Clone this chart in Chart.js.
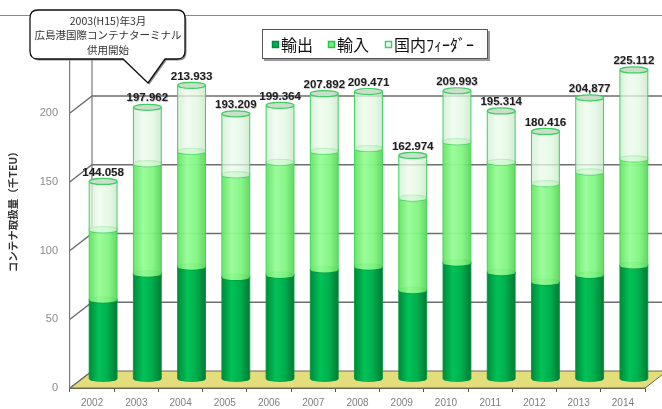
<!DOCTYPE html>
<html>
<head>
<meta charset="utf-8">
<script src="https://cdn.jsdelivr.net/npm/chart.js@4"></script>
<style>
  html, body { margin: 0; padding: 0; background: #fff; }
  #wrap { width: 662px; height: 409px; }
</style>
</head>
<body>
<div id="wrap"><canvas id="myChart" width="662" height="409"></canvas></div>
<script>
// years and cargo volumes (thousand TEU)
const years = ['2002', '2003', '2004', '2005', '2006', '2007', '2008', '2009', '2010', '2011', '2012', '2013', '2014'];
const exportVals = [58, 77, 82, 74.5, 76, 80, 82, 65, 85, 78, 71, 76, 83];
const importVals = [51, 80, 84, 74.5, 82, 86, 86, 67, 88, 80, 71.5, 75, 77.5];
const feederVals = [35.058, 40.962, 47.933, 44.209, 41.364, 41.892, 41.471, 30.974, 36.993, 37.314, 37.916, 53.877, 64.612];
const totalLabels = ['144.058', '197.962', '213.933', '193.209', '199.364', '207.892', '209.471', '162.974', '209.993', '195.314', '180.416', '204,877', '225.112'];
const yTicks = [0, 50, 100, 150, 200];
const seriesNames = ['輸出', '輸入', '国内ﾌｨｰﾀﾞｰ'];

const JP = '"Noto Sans CJK JP", sans-serif';
const depthX = 22, depthY = 17;   // 3d depth of the plot box
const capH = 3;                   // vertical radius of cylinder caps

const cylStyles = [
  { stops: [[0, '#008a3a'], [0.35, '#00c257'], [0.65, '#00b04e'], [1, '#007c34']], cap: '#2fc86a', rim: 'rgba(0,150,60,0.9)' },
  { stops: [[0, 'rgba(100,228,100,0.95)'], [0.35, 'rgba(150,252,150,0.95)'], [0.7, 'rgba(128,245,128,0.95)'], [1, 'rgba(92,214,92,0.95)']], cap: 'rgba(170,250,170,0.95)', rim: '#44d35e' },
  { stops: [[0, 'rgba(208,238,208,0.8)'], [0.35, 'rgba(236,251,236,0.75)'], [0.7, 'rgba(224,246,224,0.75)'], [1, 'rgba(198,232,198,0.8)']], cap: 'rgba(200,220,200,0.95)', rim: '#3fcf63' }
];

function drawCylinder(ctx, x, top, bottom, r, st) {
  const g = ctx.createLinearGradient(x - r, 0, x + r, 0);
  st.stops.forEach(s => g.addColorStop(s[0], s[1]));
  ctx.beginPath();
  ctx.moveTo(x - r, top);
  ctx.lineTo(x - r, bottom);
  ctx.ellipse(x, bottom, r, capH, 0, Math.PI, 0, true);
  ctx.lineTo(x + r, top);
  ctx.ellipse(x, top, r, capH, 0, 0, -Math.PI, true);
  ctx.closePath();
  ctx.fillStyle = g;
  ctx.fill();
  ctx.strokeStyle = st.rim;
  ctx.lineWidth = 1;
  ctx.beginPath();
  ctx.moveTo(x - r, top); ctx.lineTo(x - r, bottom);
  ctx.moveTo(x + r, top); ctx.lineTo(x + r, bottom);
  ctx.stroke();
  // top cap
  ctx.beginPath();
  ctx.ellipse(x, top, r, capH, 0, 0, Math.PI * 2);
  ctx.fillStyle = st.cap;
  ctx.fill();
  ctx.lineWidth = 1.2;
  ctx.stroke();
}

// back wall, grid lines and floor
const boxPlugin = {
  id: 'box3d',
  beforeDatasetsDraw(chart) {
    const { ctx, chartArea: a, scales: { y } } = chart;
    ctx.save();
    // floor
    ctx.beginPath();
    ctx.moveTo(a.left, a.bottom);
    ctx.lineTo(a.right, a.bottom);
    ctx.lineTo(a.right + depthX, a.bottom - depthY);
    ctx.lineTo(a.left + depthX, a.bottom - depthY);
    ctx.closePath();
    ctx.fillStyle = '#e3dd7c';
    ctx.fill();
    ctx.strokeStyle = '#6b6b50';
    ctx.lineWidth = 1;
    ctx.stroke();
    // back wall edge
    ctx.strokeStyle = '#7a7a7a';
    ctx.lineWidth = 1.2;
    ctx.beginPath();
    ctx.moveTo(a.left + depthX, a.bottom - depthY);
    ctx.lineTo(a.left + depthX, 14);
    ctx.stroke();
    // grid lines on the back wall
    ctx.strokeStyle = '#6e6e6e';
    ctx.lineWidth = 1.5;
    yTicks.forEach(v => {
      const py = y.getPixelForValue(v);
      ctx.beginPath();
      ctx.moveTo(a.left, py);
      ctx.lineTo(a.left + depthX, py - depthY);
      if (v > 0) ctx.lineTo(chart.width, py - depthY);
      ctx.stroke();
    });
    ctx.restore();
  },
  afterDatasetsDraw(chart) {
    const { ctx } = chart;
    const metas = [0, 1, 2].map(i => chart.getDatasetMeta(i));
    ctx.save();
    ctx.translate(depthX / 2, -depthY / 2);
    years.forEach((yr, i) => {
      let topY = 0, cx = 0;
      metas.forEach((m, d) => {
        const el = m.data[i];
        const p = el.getProps(['x', 'y', 'base', 'width'], true);
        drawCylinder(ctx, p.x, p.y, p.base, p.width / 2, cylStyles[d]);
        topY = p.y; cx = p.x;
      });
      ctx.font = 'bold 11.5px "Liberation Sans", Arial, sans-serif';
      ctx.textAlign = 'center';
      ctx.textBaseline = 'middle';
      ctx.fillStyle = 'rgba(0,0,0,0.22)';
      ctx.fillText(totalLabels[i], cx + 0.7, topY - capH - 6 + 0.7);
      ctx.fillStyle = '#1e1e1e';
      ctx.fillText(totalLabels[i], cx, topY - capH - 6);
    });
    ctx.restore();
  },
  afterDraw(chart) {
    const { ctx } = chart;
    ctx.save();
    // top frame line
    ctx.strokeStyle = '#8a8a8a';
    ctx.lineWidth = 1;
    ctx.beginPath();
    ctx.moveTo(0, 15.5); ctx.lineTo(chart.width, 15.5);
    ctx.stroke();

    // legend box
    ctx.fillStyle = '#9a9a9a';
    ctx.fillRect(264, 31, 226, 30);
    ctx.fillStyle = '#fff';
    ctx.fillRect(262, 29, 226, 30);
    ctx.strokeStyle = '#555';
    ctx.strokeRect(262.5, 29.5, 225, 29);
    const items = [
      { x: 272, fill: '#00b050', line: '#008a3a' },
      { x: 328, fill: '#77f077', line: '#2fc24f' },
      { x: 385, fill: '#ffffff', line: '#3fcf63' }
    ];
    ctx.font = '16px ' + JP;
    ctx.textBaseline = 'middle';
    ctx.textAlign = 'left';
    items.forEach((it, i) => {
      ctx.fillStyle = it.fill;
      ctx.fillRect(it.x, 41, 7, 7);
      ctx.strokeStyle = it.line;
      ctx.lineWidth = 1.5;
      ctx.strokeRect(it.x + 0.5, 41.5, 6, 6);
      ctx.fillStyle = '#111';
      ctx.fillText(seriesNames[i], it.x + 9, 45);
    });

    // callout
    const drawBubble = (dx, dy) => {
      ctx.beginPath();
      ctx.moveTo(38 + dx, 10 + dy);
      ctx.lineTo(177 + dx, 10 + dy);
      ctx.quadraticCurveTo(185 + dx, 10 + dy, 185 + dx, 18 + dy);
      ctx.lineTo(185 + dx, 51 + dy);
      ctx.quadraticCurveTo(185 + dx, 59 + dy, 177 + dx, 59 + dy);
      ctx.lineTo(165 + dx, 59 + dy);
      ctx.lineTo(148 + dx, 83 + dy);
      ctx.lineTo(123 + dx, 59 + dy);
      ctx.lineTo(38 + dx, 59 + dy);
      ctx.quadraticCurveTo(30 + dx, 59 + dy, 30 + dx, 51 + dy);
      ctx.lineTo(30 + dx, 18 + dy);
      ctx.quadraticCurveTo(30 + dx, 10 + dy, 38 + dx, 10 + dy);
      ctx.closePath();
    };
    drawBubble(1.5, 1.5);
    ctx.fillStyle = '#8a8a8a';
    ctx.fill();
    drawBubble(0, 0);
    ctx.fillStyle = '#fff';
    ctx.fill();
    ctx.strokeStyle = '#111';
    ctx.lineWidth = 1.3;
    ctx.stroke();
    ctx.fillStyle = '#333';
    ctx.textAlign = 'center';
    ctx.font = '10.5px ' + JP;
    ctx.fillText('2003(H15)年3月', 108, 21);
    ctx.fillText('広島港国際コンテナターミナル', 108, 35.5);
    ctx.fillText('供用開始', 108, 50);
    ctx.restore();
  }
};

const data = {
  labels: years,
  datasets: [
    { label: seriesNames[0], data: exportVals },
    { label: seriesNames[1], data: importVals },
    { label: seriesNames[2], data: feederVals }
  ].map(ds => Object.assign(ds, {
    backgroundColor: 'rgba(0,0,0,0)',
    borderWidth: 0,
    barPercentage: 0.63,
    categoryPercentage: 1
  }))
};

const config = {
  type: 'bar',
  data: data,
  options: {
    responsive: false,
    animation: false,
    layout: { padding: { left: 0, right: 17, top: 30.5, bottom: 0 } },
    plugins: {
      legend: { display: false },
      tooltip: { enabled: false }
    },
    scales: {
      x: {
        stacked: true,
        afterFit: s => { s.height = 21; },
        border: { display: true, color: '#6b6b50' },
        grid: { drawOnChartArea: false, drawTicks: true, tickLength: 4, color: '#555' },
        ticks: { color: '#7f7f7f', padding: 5, font: { size: 10, family: '"Liberation Sans", Arial, sans-serif' } }
      },
      y: {
        stacked: true,
        min: 0,
        max: 260,
        afterFit: s => { s.width = 70; },
        afterBuildTicks: s => { s.ticks = yTicks.map(v => ({ value: v })); },
        border: { display: true, color: '#7a7a7a', width: 1.2 },
        grid: { drawOnChartArea: false, drawTicks: false },
        ticks: { color: '#8a8a8a', padding: 12, font: { size: 11, family: '"Liberation Sans", Arial, sans-serif' } },
        title: {
          display: true,
          text: 'コンテナ取扱量（千TEU）',
          color: '#333',
          padding: { top: 7, bottom: 0 },
          font: { size: 10.5, weight: 'bold', family: JP }
        }
      }
    }
  },
  plugins: [boxPlugin]
};

const myChart = new Chart(
  document.getElementById('myChart'),
  config
);
</script>
</body>
</html>
